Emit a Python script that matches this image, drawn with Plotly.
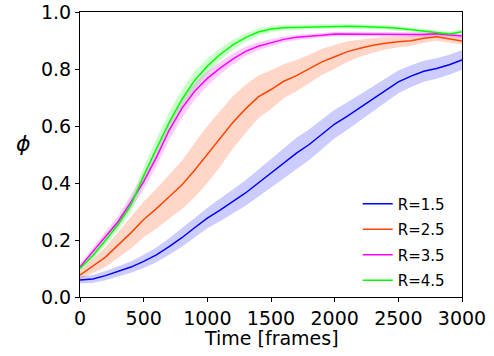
import plotly.graph_objects as go

# Time axis (frames)
frames = list(range(0, 3001, 100))

# Mean order parameter phi for each interaction radius
phi_r15 = [0.060, 0.063, 0.075, 0.090, 0.105, 0.125, 0.148, 0.177, 0.208, 0.243,
           0.277, 0.305, 0.335, 0.365, 0.400, 0.435, 0.470, 0.505, 0.535, 0.570,
           0.607, 0.635, 0.665, 0.697, 0.728, 0.755, 0.775, 0.792, 0.802, 0.815, 0.832]
phi_r25 = [0.077, 0.108, 0.140, 0.183, 0.225, 0.272, 0.310, 0.352, 0.393, 0.445,
           0.500, 0.555, 0.612, 0.660, 0.702, 0.728, 0.757, 0.777, 0.800, 0.825,
           0.843, 0.861, 0.873, 0.883, 0.890, 0.896, 0.899, 0.908, 0.913, 0.905, 0.898]
phi_r35 = [0.106, 0.160, 0.215, 0.265, 0.333, 0.405, 0.490, 0.585, 0.662, 0.722,
           0.767, 0.803, 0.835, 0.862, 0.880, 0.892, 0.904, 0.911, 0.914, 0.918,
           0.923, 0.923, 0.922, 0.922, 0.922, 0.923, 0.922, 0.921, 0.924, 0.920, 0.916]
phi_r45 = [0.100, 0.145, 0.198, 0.255, 0.322, 0.425, 0.520, 0.612, 0.693, 0.760,
           0.810, 0.851, 0.885, 0.910, 0.930, 0.940, 0.945, 0.946, 0.948, 0.950,
           0.951, 0.950, 0.949, 0.948, 0.946, 0.943, 0.938, 0.933, 0.929, 0.923, 0.931]

# Spread (half-width of the shaded band) for each radius
sd_r15 = [0.012, 0.014, 0.016, 0.018, 0.020, 0.023, 0.026, 0.029, 0.032, 0.034,
          0.036, 0.039, 0.042, 0.045, 0.048, 0.050, 0.052, 0.054, 0.054, 0.052,
          0.050, 0.048, 0.046, 0.044, 0.042, 0.040, 0.038, 0.037, 0.036, 0.035, 0.035]
sd_r25 = [0.015, 0.025, 0.035, 0.045, 0.055, 0.062, 0.070, 0.077, 0.085, 0.095,
          0.100, 0.098, 0.092, 0.085, 0.075, 0.068, 0.060, 0.055, 0.050, 0.046,
          0.042, 0.036, 0.030, 0.026, 0.022, 0.020, 0.018, 0.016, 0.014, 0.013, 0.012]
sd_r35 = [0.010, 0.013, 0.016, 0.020, 0.024, 0.028, 0.032, 0.034, 0.034, 0.030,
          0.026, 0.022, 0.019, 0.016, 0.014, 0.012, 0.010, 0.009, 0.008, 0.008,
          0.008, 0.008, 0.008, 0.008, 0.008, 0.008, 0.008, 0.008, 0.008, 0.008, 0.008]
sd_r45 = [0.010, 0.013, 0.016, 0.020, 0.025, 0.030, 0.035, 0.037, 0.036, 0.032,
          0.027, 0.022, 0.018, 0.015, 0.013, 0.011, 0.010, 0.009, 0.008, 0.008,
          0.008, 0.008, 0.008, 0.008, 0.008, 0.008, 0.008, 0.008, 0.008, 0.008, 0.008]

labels = ["R=1.5", "R=2.5", "R=3.5", "R=4.5"]
colors = ["#0000ff", "#ff4500", "#ff00ff", "#00ff00"]
bands = ["rgba(0,0,255,0.2)", "rgba(255,69,0,0.22)", "rgba(255,0,255,0.2)", "rgba(0,255,0,0.2)"]

x_ticks = [0, 500, 1000, 1500, 2000, 2500, 3000]
y_ticks = [0.0, 0.2, 0.4, 0.6, 0.8, 1.0]

series = [phi_r15, phi_r25, phi_r35, phi_r45]
spreads = [sd_r15, sd_r25, sd_r35, sd_r45]

FONT = "DejaVu Sans"

fig = go.Figure()

# Shaded bands first so all lines sit on top
for mean, sd, band, lab in zip(series, spreads, bands, labels):
    upper = [m + s for m, s in zip(mean, sd)]
    lower = [m - s for m, s in zip(mean, sd)]
    fig.add_trace(go.Scatter(x=frames, y=upper, mode="lines", line=dict(width=0),
                             showlegend=False, hoverinfo="skip"))
    fig.add_trace(go.Scatter(x=frames, y=lower, mode="lines", line=dict(width=0),
                             fill="tonexty", fillcolor=band,
                             showlegend=False, hoverinfo="skip"))

for mean, col, lab in zip(series, colors, labels):
    fig.add_trace(go.Scatter(x=frames, y=mean, mode="lines", name=lab,
                             legendgroup=lab,
                             line=dict(color=col, width=1.5)))

axis_common = dict(
    showline=True, linecolor="black", linewidth=1, mirror=True,
    ticks="outside", ticklen=4, tickwidth=1, tickcolor="black",
    showgrid=False, zeroline=False, automargin=False,
    tickfont=dict(family=FONT, size=19, color="black"),
)

fig.update_xaxes(range=[0, 3000], tickvals=x_ticks,
                 ticktext=[str(v) for v in x_ticks], **axis_common)
fig.update_yaxes(range=[0, 1.0], tickvals=y_ticks,
                 ticktext=[f"{v:.1f}" for v in y_ticks], **axis_common)

fig.add_annotation(text="Time [frames]", xref="paper", yref="paper",
                   x=0.5, y=-0.145, xanchor="center", yanchor="middle",
                   showarrow=False, font=dict(family=FONT, size=19, color="black"))
fig.add_annotation(text="<i>ϕ</i>", xref="paper", yref="paper",
                   x=-0.147, y=0.54, xanchor="center", yanchor="middle",
                   showarrow=False, font=dict(family=FONT, size=22, color="black"))

fig.update_layout(
    width=494, height=356,
    margin=dict(l=80, r=32, t=12, b=59, autoexpand=False),
    plot_bgcolor="white", paper_bgcolor="white",
    font=dict(family=FONT, color="black"),
    legend=dict(x=0.727, y=0.384, xanchor="left", yanchor="top",
                bgcolor="rgba(0,0,0,0)", borderwidth=0,
                tracegroupgap=3,
                font=dict(family=FONT, size=15, color="black")),
)

fig.write_html("out.html")
